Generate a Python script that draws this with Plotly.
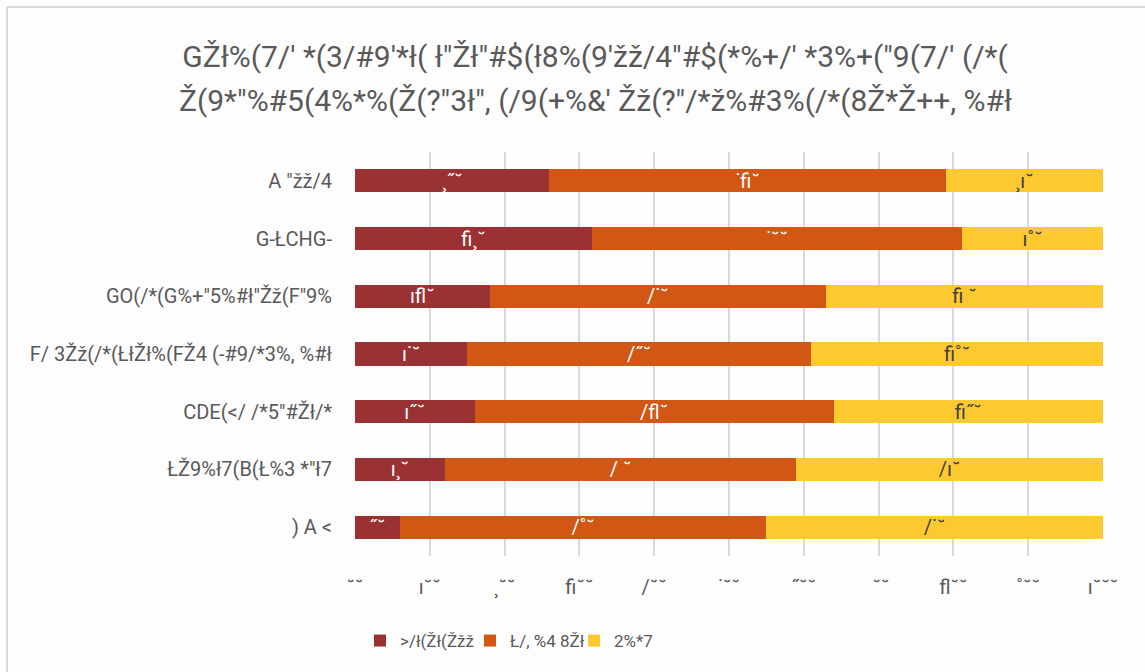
import plotly.graph_objects as go

# Text exactly as it appears in the reference (font-encoded glyphs)
title_lines = [
    "GŽł%(7/' *(3/#9'*ł( ł\"Žł\"#$(ł8%(9'žž/4\"#$(*%+/' *3%+(\"9(7/' (/*(",
    "Ž(9*\"%#5(4%*%(Ž(?\"3ł\", (/9(+%&' Žž(?\"/*ž%#3%(/*(8Ž*Ž++, %#ł",
]
categories = [
    "A \"žž/4",
    "G-ŁCHG-",
    "GO(/*(G%+\"5%#ł\"Žž(F\"9%",
    "F/ 3Žž(/*(ŁłŽł%(FŽ4 (-#9/*3%, %#ł",
    "CDE(&lt;/ /*5\"#Žł/*",
    "ŁŽ9%ł7(B(Ł%3 *\"ł7",
    ") A &lt;",
]
series_names = [">/ł(Žł(Žžž", "Ł/, %4 8Žł", "2%*7"]

# Values (percent of respondents), top row first
red_vals = [26, 32, 18, 15, 16, 12, 6]
orange_vals = [53, 50, 45, 46, 48, 47, 49]
yellow_vals = [21, 19, 37, 39, 36, 41, 45]

tick_vals = [0, 10, 20, 30, 40, 50, 60, 70, 80, 90, 100]

# digit -> glyph as rendered in the reference's label font
glyph = {"0": "\u02d8", "1": "\u0131", "2": "\u00b8", "3": "\ufb01", "4": "/",
         "5": "\u02d9", "6": "\u02dd", "7": "\u00a0", "8": "\ufb02", "9": "\u02da",
         "%": "\u02d8"}


def enc(v):
    return "".join(glyph[c] for c in f"{v}%")


colors = ["#9a3234", "#d25614", "#fdc930"]
text_colors = ["#ffffff", "#ffffff", "#404040"]
FONT = "Roboto, Liberation Sans, sans-serif"

L, R, T, B = 355, 42, 152, 116
W, H = 1145, 672
pw, ph = W - L - R, H - T - B


def px_x(p):
    return (p - L) / pw


def px_y(p):
    return (H - B - p) / ph


legend_ids = ["legend", "legend2", "legend3"]
legend_px = [360, 470, 574]

fig = go.Figure()
for name, vals, col, tcol, lid in zip(series_names, [red_vals, orange_vals, yellow_vals],
                                      colors, text_colors, legend_ids):
    fig.add_trace(go.Bar(
        y=categories, x=vals, name=name, orientation="h",
        marker=dict(color=col, line=dict(width=0)),
        text=[enc(v) for v in vals], textposition="inside",
        insidetextanchor="middle", textangle=0,
        textfont=dict(family=FONT, size=20, color=tcol),
        hoverinfo="skip", legend=lid,
    ))

legend_common = dict(orientation="h", xanchor="left", y=px_y(641), yanchor="middle",
                     font=dict(family=FONT, size=17, color="#595959"),
                     itemwidth=30, bgcolor="rgba(0,0,0,0)")

fig.update_layout(
    barmode="stack", barnorm="percent", bargap=0.6,
    width=W, height=H,
    margin=dict(l=L, r=R, t=T, b=B),
    paper_bgcolor="#fdfdfd", plot_bgcolor="rgba(0,0,0,0)",
    font=dict(family=FONT, color="#595959", size=20),
    title=dict(text=title_lines[0], x=595 / W, xref="container", xanchor="center",
               y=1 - 56 / H, yref="container", yanchor="middle",
               font=dict(family=FONT, size=30, color="#595959")),
    annotations=[dict(text=title_lines[1], xref="paper", yref="paper",
                      x=px_x(595), y=px_y(100), xanchor="center", yanchor="middle",
                      showarrow=False, font=dict(family=FONT, size=30, color="#595959"))],
    uniformtext=dict(minsize=18, mode="show"),
    showlegend=True,
    legend=dict(x=px_x(legend_px[0]), **legend_common),
    legend2=dict(x=px_x(legend_px[1]), **legend_common),
    legend3=dict(x=px_x(legend_px[2]), **legend_common),
    xaxis=dict(range=[0, 100], tickvals=tick_vals, ticktext=[enc(v) for v in tick_vals],
               showgrid=True, gridcolor="#d9d9d9", gridwidth=2, zeroline=False,
               showline=False, ticks="", ticklabelstandoff=17,
               tickfont=dict(family=FONT, size=20, color="#595959"), fixedrange=True),
    yaxis=dict(autorange="reversed", showgrid=False, zeroline=False, showline=False,
               ticks="", ticklabelstandoff=22,
               tickfont=dict(family=FONT, size=20, color="#595959"), fixedrange=True),
    shapes=[
        dict(type="line", xref="paper", yref="paper", x0=px_x(7), x1=px_x(W + 5),
             y0=px_y(7), y1=px_y(7), line=dict(color="#d9d9d9", width=2)),
        dict(type="line", xref="paper", yref="paper", x0=px_x(7), x1=px_x(7),
             y0=px_y(7), y1=px_y(H + 5), line=dict(color="#d9d9d9", width=2)),
    ],
)

fig.write_html("out.html", config={"displayModeBar": False},
               post_script="document.body.style.margin='0';document.body.style.overflow='hidden';")
